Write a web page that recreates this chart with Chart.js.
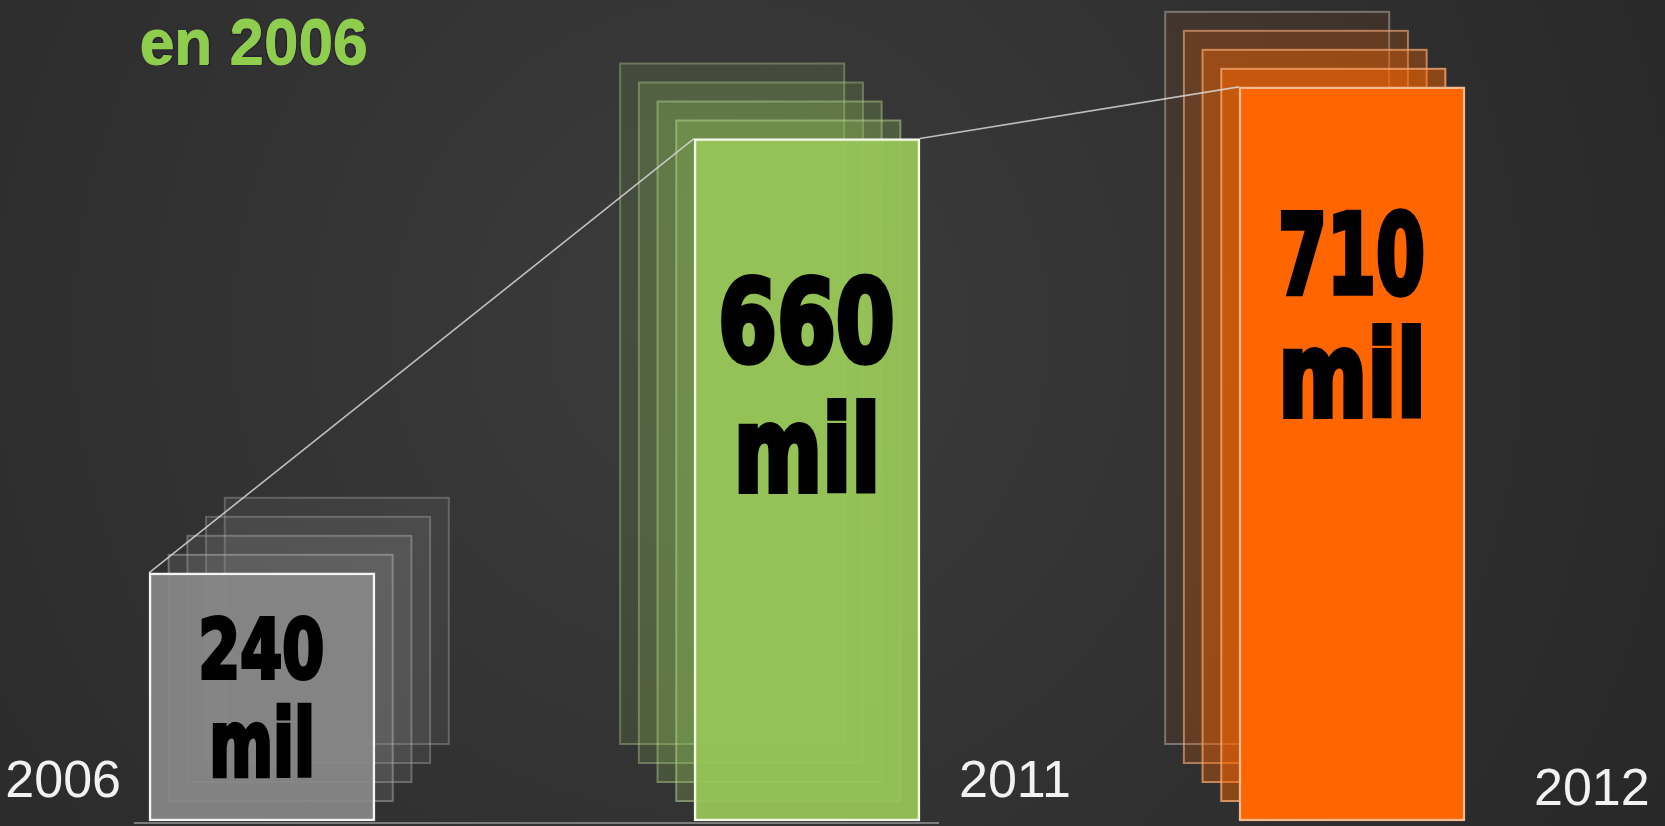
<!DOCTYPE html>
<html>
<head>
<meta charset="utf-8">
<script src="https://cdn.jsdelivr.net/npm/chart.js@4"></script>
<style>
  html,body{margin:0;padding:0;background:#303030;overflow:hidden;}
  canvas{display:block;}
</style>
</head>
<body>
<canvas id="c" width="1665" height="826"></canvas>
<script>
// ---- data ----
const categories = ['2006', '2011', '2012'];
const values = [240, 660, 710];
const valueLabels = ['240', '660', '710'];
const unitLabel = 'mil';
const titleText = 'en 2006';

// ---- styles ----
const frontFill = ['rgba(136,136,136,0.92)', 'rgba(152,198,88,0.93)', '#ff6600'];
const frontBorder = ['#f4f4f4', '#f3f9e6', '#f6b98e'];
const ghostFill = ['140,140,140', '150,200,90', '255,102,0'];
const ghostAlpha = [[0.13, 0.15, 0.17, 0.2], [0.14, 0.18, 0.22, 0.26], [0.08, 0.2, 0.33, 0.45]];
const ghostBorder = [
  ['rgba(190,190,190,0.3)', 'rgba(190,190,190,0.3)', 'rgba(190,190,190,0.35)', 'rgba(190,190,190,0.4)'],
  ['rgba(200,225,170,0.3)', 'rgba(200,225,170,0.3)', 'rgba(200,225,170,0.35)', 'rgba(200,225,170,0.4)'],
  ['rgba(170,170,170,0.55)', 'rgba(235,170,125,0.6)', 'rgba(240,170,120,0.65)', 'rgba(245,175,125,0.7)']
];
const ghostDir = [1, -1, -1];
const ghostStepX = 18.7, ghostStepY = 19, ghostCount = 4;
const labelStyle = [
  {off: 42, numW: 122, numH: 66, gap: 22, milW: 99, milH: 75},
  {off: 134, numW: 172, numH: 92, gap: 34, milW: 137, milH: 95},
  {off: 120, numW: 143, numH: 90, gap: 27, milW: 138, milH: 95}
];
const yearStyle = [
  {align: 'right', dx: -28, dy: -24},
  {align: 'left', dx: 39, dy: -24},
  {align: 'left', dx: 69, dy: -16}
];

function barBox(el) {
  const p = el.getProps(['x', 'y', 'base', 'width'], true);
  return {l: p.x - p.width / 2, r: p.x + p.width / 2, t: p.y, b: p.base, cx: p.x, w: p.width};
}

function fitText(ctx, text, font, left, top, w, h, fill, strokeW, strokeCol) {
  ctx.save();
  ctx.font = font;
  const m = ctx.measureText(text);
  const L = strokeW || 0;
  const bw = m.actualBoundingBoxLeft + m.actualBoundingBoxRight + L;
  const bh = m.actualBoundingBoxAscent + m.actualBoundingBoxDescent + L;
  ctx.translate(left, top);
  ctx.scale(w / bw, h / bh);
  ctx.textAlign = 'left';
  ctx.textBaseline = 'alphabetic';
  const x = m.actualBoundingBoxLeft + L / 2, y = m.actualBoundingBoxAscent + L / 2;
  if (L) {
    ctx.lineWidth = L;
    ctx.lineJoin = 'miter';
    ctx.strokeStyle = strokeCol || fill;
    ctx.strokeText(text, x, y);
  }
  ctx.fillStyle = fill;
  ctx.fillText(text, x, y);
  ctx.restore();
}

const decorPlugin = {
  id: 'decor',
  beforeDraw(chart) {
    const ctx = chart.ctx, W = chart.width, H = chart.height;
    const g = ctx.createRadialGradient(720, 330, 50, 720, 330, 1050);
    g.addColorStop(0, '#3b3b3b');
    g.addColorStop(1, '#282828');
    ctx.save();
    ctx.fillStyle = g;
    ctx.fillRect(0, 0, W, H);
    ctx.restore();
  },
  beforeDatasetsDraw(chart) {
    const ctx = chart.ctx;
    const meta = chart.getDatasetMeta(0);
    ctx.save();
    meta.data.forEach((el, i) => {
      const b = barBox(el);
      for (let k = ghostCount; k >= 1; k--) {
        const dx = ghostDir[i] * k * ghostStepX, dy = -k * ghostStepY;
        const a = ghostAlpha[i][ghostCount - k];
        ctx.fillStyle = 'rgba(' + ghostFill[i] + ',' + a + ')';
        ctx.fillRect(b.l + dx, b.t + dy, b.w, b.b - b.t);
        ctx.strokeStyle = ghostBorder[i][ghostCount - k];
        ctx.lineWidth = 2;
        ctx.strokeRect(b.l + dx + 1, b.t + dy + 1, b.w - 2, b.b - b.t - 2);
      }
    });
    // connector lines
    const b0 = barBox(meta.data[0]), b1 = barBox(meta.data[1]), b2 = barBox(meta.data[2]);
    ctx.strokeStyle = 'rgba(215,215,215,0.85)';
    ctx.lineWidth = 1.6;
    ctx.beginPath();
    ctx.moveTo(b0.l, b0.t);
    ctx.lineTo(b1.l, b1.t);
    ctx.moveTo(b1.r, b1.t);
    ctx.lineTo(b2.l, b2.t);
    ctx.stroke();
    // baseline
    ctx.strokeStyle = 'rgba(150,150,150,0.75)';
    ctx.lineWidth = 2;
    ctx.beginPath();
    ctx.moveTo(b0.l - 15, b0.b + 2);
    ctx.lineTo(b1.r + 19, b1.b + 2);
    ctx.stroke();
    ctx.restore();
  },
  afterDatasetsDraw(chart) {
    const ctx = chart.ctx;
    const meta = chart.getDatasetMeta(0);
    meta.data.forEach((el, i) => {
      const b = barBox(el);
      const s = labelStyle[i];
      const top = b.t + s.off;
      fitText(ctx, valueLabels[i], 'bold 100px "DejaVu Sans"', b.cx - s.numW / 2, top, s.numW, s.numH, '#000', 5, '#000');
      fitText(ctx, unitLabel, 'bold 100px "DejaVu Sans"', b.cx - s.milW / 2, top + s.numH + s.gap, s.milW, s.milH, '#000', 5, '#000');
      // year labels
      const y = yearStyle[i];
      ctx.save();
      ctx.font = '52px "Liberation Sans", Arial, sans-serif';
      ctx.fillStyle = '#f2f2f2';
      ctx.textAlign = y.align;
      ctx.textBaseline = 'alphabetic';
      const x = y.align === 'right' ? b.l + y.dx : b.r + y.dx;
      ctx.fillText(categories[i], x, b.b + y.dy);
      ctx.restore();
    });
    // title
    fitText(ctx, titleText, 'bold 100px "Liberation Sans", Arial, sans-serif', 141, 19, 225, 47, '#8fcd4e', 5, '#2b2233');
    fitText(ctx, titleText, 'bold 100px "Liberation Sans", Arial, sans-serif', 141, 19, 225, 47, '#8fcd4e', 0);
  }
};

new Chart(document.getElementById('c'), {
  type: 'bar',
  data: {
    labels: categories,
    datasets: [{
      data: values,
      backgroundColor: frontFill,
      borderColor: frontBorder,
      borderWidth: 2.5,
      borderSkipped: false,
      barThickness: 226,
      clip: false
    }]
  },
  options: {
    responsive: false,
    devicePixelRatio: 1,
    animation: false,
    layout: {padding: {left: 262, right: 313, top: 0, bottom: 5}},
    scales: {
      x: {display: false, offset: false},
      y: {display: false, min: 0, max: 794}
    },
    plugins: {legend: {display: false}, tooltip: {enabled: false}}
  },
  plugins: [decorPlugin]
});
</script>
</body>
</html>
